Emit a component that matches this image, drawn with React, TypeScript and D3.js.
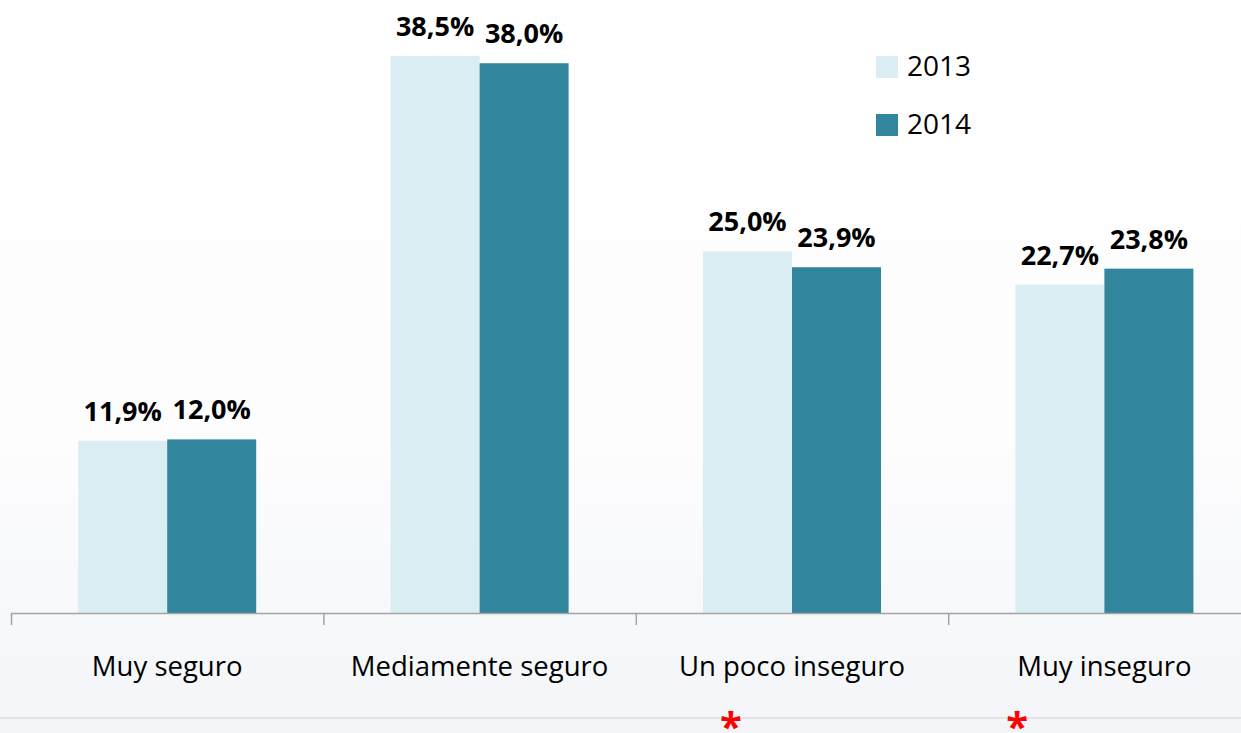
import React from "react";
import { scaleBand, scaleLinear } from "d3";

const categories = ["Muy seguro", "Mediamente seguro", "Un poco inseguro", "Muy inseguro"];
const years = ["2013", "2014"];
const values2013 = [11.9, 38.5, 25.0, 22.7];
const values2014 = [12.0, 38.0, 23.9, 23.8];
const starred = ["Un poco inseguro", "Muy inseguro"];

const colors: Record<string, string> = { "2013": "#DAEDF2", "2014": "#31859C" };

const width = 1241;
const height = 733;
const baseline = 613;
const font = "'Open Sans', 'Noto Sans', sans-serif";

const fmt = (v: number) => v.toFixed(1).replace(".", ",") + "%";

const App = () => {
  const step = 312.4;
  const x0 = scaleBand<string>()
    .domain(categories)
    .range([11, 11 + step * categories.length])
    .padding(0);

  const x1 = scaleBand<string>()
    .domain(years)
    .range([0, x0.bandwidth()])
    .paddingInner(0)
    .paddingOuter(0.755);

  const y = scaleLinear().domain([0, 38.5]).range([baseline, 56]);

  const series = [
    { year: "2013", values: values2013 },
    { year: "2014", values: values2014 },
  ];

  // asterisk nudges relative to band start
  const starDx: Record<string, number> = { "Un poco inseguro": 95, "Muy inseguro": 69 };

  return (
    <svg
      width={width}
      height={height}
      style={{ position: "absolute", left: 0, top: 0, display: "block" }}
    >
      <defs>
        <linearGradient id="bg" x1="0" y1="0" x2="0" y2="1">
          <stop offset="0" stopColor="#ffffff" />
          <stop offset="0.6" stopColor="#fdfdfe" />
          <stop offset="1" stopColor="#f3f5f8" />
        </linearGradient>
      </defs>
      <rect x={0} y={0} width={width} height={height} fill="url(#bg)" />

      {series.map((s) =>
        categories.map((c, i) => {
          const bx = (x0(c) ?? 0) + (x1(s.year) ?? 0);
          const by = y(s.values[i]);
          return (
            <g key={s.year + c}>
              <rect
                x={bx}
                y={by}
                width={x1.bandwidth()}
                height={baseline - by}
                fill={colors[s.year]}
              />
              <text
                x={bx + x1.bandwidth() / 2}
                y={by - 20}
                textAnchor="middle"
                fontFamily={font}
                fontWeight="bold"
                fontSize={27}
                fill="#000"
              >
                {fmt(s.values[i])}
              </text>
            </g>
          );
        })
      )}

      {/* x axis */}
      <line x1={x0.range()[0]} x2={width} y1={baseline + 0.5} y2={baseline + 0.5} stroke="#a3a3a3" strokeWidth={1.5} />
      {categories.map((c) => (
        <line
          key={"t" + c}
          x1={(x0(c) ?? 0) + 0.5}
          x2={(x0(c) ?? 0) + 0.5}
          y1={baseline}
          y2={baseline + 12}
          stroke="#a3a3a3"
          strokeWidth={1.5}
        />
      ))}
      {categories.map((c) => (
        <text
          key={"l" + c}
          x={(x0(c) ?? 0) + x0.bandwidth() / 2}
          y={676}
          textAnchor="middle"
          fontFamily={font}
          fontSize={27.5}
          fill="#000"
        >
          {c}
        </text>
      ))}

      <line x1={0} x2={width} y1={718} y2={718} stroke="#dcdcdc" strokeWidth={1.5} />

      {starred.map((c) => (
        <text
          key={"s" + c}
          x={(x0(c) ?? 0) + starDx[c]}
          y={741}
          textAnchor="middle"
          fontFamily={font}
          fontWeight="bold"
          fontSize={40}
          fill="#ff0000"
        >
          *
        </text>
      ))}

      {/* legend */}
      {years.map((yr, i) => (
        <g key={"lg" + yr} transform={`translate(876,${56 + i * 58})`}>
          <rect x={0} y={0} width={22} height={22} fill={colors[yr]} />
          <text x={31} y={20} fontFamily={font} fontSize={28} fill="#000">
            {yr}
          </text>
        </g>
      ))}
    </svg>
  );
};

export default App;
